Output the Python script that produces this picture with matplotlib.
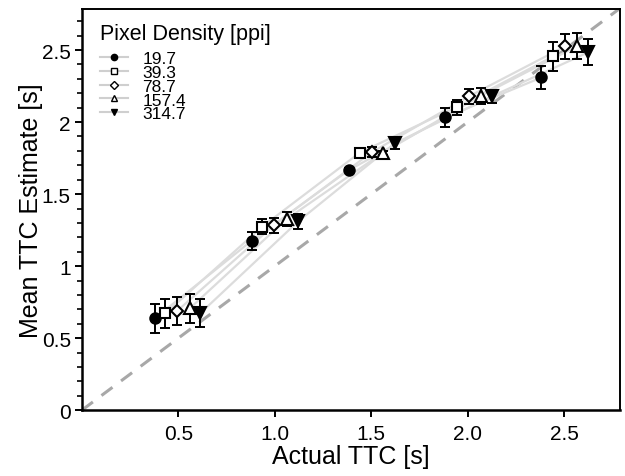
import matplotlib
matplotlib.use("Agg")
import matplotlib.pyplot as plt
from matplotlib.lines import Line2D
from matplotlib.ticker import MultipleLocator
import numpy as np

plt.rcParams['font.family'] = ['Liberation Sans', 'DejaVu Sans']

densities = ["19.7", "39.3", "78.7", "157.4", "314.7"]
markers = ["o", "s", "D", "^", "v"]
fills = ["black", "white", "white", "white", "black"]
msizes = [7.5, 6.5, 6, 8, 8]

# x positions (actual TTC with small horizontal offsets per density)
x_19 = [0.378, 0.880, 1.384, 1.885, 2.383]
x_39 = [0.433, 0.936, 1.441, 1.943, 2.443]
x_78 = [0.495, 0.996, 1.502, 2.006, 2.504]
x_157 = [0.559, 1.061, 1.559, 2.068, 2.565]
x_314 = [0.615, 1.121, 1.622, 2.124, 2.625]

y_19 = [0.637, 1.176, 1.667, 2.033, 2.310]
y_39 = [0.672, 1.275, 1.788, 2.104, 2.456]
y_78 = [0.690, 1.285, 1.790, 2.178, 2.525]
y_157 = [0.706, 1.326, 1.786, 2.183, 2.526]
y_314 = [0.674, 1.310, 1.852, 2.178, 2.484]

e_19 = [0.100, 0.062, 0.015, 0.064, 0.080]
e_39 = [0.100, 0.050, 0.020, 0.052, 0.100]
e_78 = [0.098, 0.052, 0.035, 0.052, 0.090]
e_157 = [0.098, 0.050, 0.012, 0.054, 0.090]
e_314 = [0.098, 0.050, 0.040, 0.043, 0.090]

xs = [x_19, x_39, x_78, x_157, x_314]
ys = [y_19, y_39, y_78, y_157, y_314]
es = [e_19, e_39, e_78, e_157, e_314]

fig = plt.figure(figsize=(6.25, 4.77), dpi=100)
ax = fig.add_axes([0.131, 0.138, 0.861, 0.841])

ax.plot([0, 2.8], [0, 2.8], color="#a8a8a8", lw=2.2, dashes=(4.5, 3.5), zorder=1)

for x, y in zip(xs, ys):
    ax.plot(x, y, color="#dcdcdc", lw=1.6, zorder=2)

for x, y, e, m, f, s in zip(xs, ys, es, markers, fills, msizes):
    ax.errorbar(x, y, yerr=e, fmt="none", ecolor="black", elinewidth=1.4,
                capsize=3.5, capthick=1.4, zorder=3)
    ax.plot(x, y, linestyle="none", marker=m, markersize=s, markerfacecolor=f,
            markeredgecolor="black", markeredgewidth=1.5, zorder=4)

ax.set_xlim(0, 2.79)
ax.set_ylim(0, 2.785)
ax.set_xticks([0.5, 1.0, 1.5, 2.0, 2.5])
ax.set_xticklabels(["0.5", "1.0", "1.5", "2.0", "2.5"])
ax.set_yticks([0, 0.5, 1, 1.5, 2, 2.5])
ax.set_yticklabels(["0", "0.5", "1", "1.5", "2", "2.5"])
ax.yaxis.set_minor_locator(MultipleLocator(0.1))
ax.tick_params(axis="both", which="major", direction="out", length=5, width=1.4,
               labelsize=15, pad=3)
ax.tick_params(axis="y", which="minor", direction="out", length=3.5, width=1.2)
ax.tick_params(axis="x", which="major", pad=5)

for side in ["left", "bottom"]:
    ax.spines[side].set_linewidth(1.8)
for side in ["top", "right"]:
    ax.spines[side].set_linewidth(1.4)

ax.set_xlabel("Actual TTC [s]", fontsize=18, labelpad=1)
ax.set_ylabel("Mean TTC Estimate [s]", fontsize=18, labelpad=-1)

handles = []
for m, f in zip(markers, fills):
    handles.append(Line2D([0], [0], color="#cfcfcf", lw=1.5, marker=m, markersize=4.5,
                          markerfacecolor=f, markeredgecolor="black", markeredgewidth=1.0))
leg = ax.legend(handles, densities, title="Pixel Density [ppi]", loc="upper left",
                bbox_to_anchor=(0.012, 0.995),
                frameon=False, fontsize=12.5, title_fontsize=15.5, labelspacing=-0.08,
                handlelength=1.6, handletextpad=0.8, borderaxespad=0.3)
leg._legend_box.align = "left"
leg._legend_box.sep = 5

fig.savefig("out.png", dpi=100)
